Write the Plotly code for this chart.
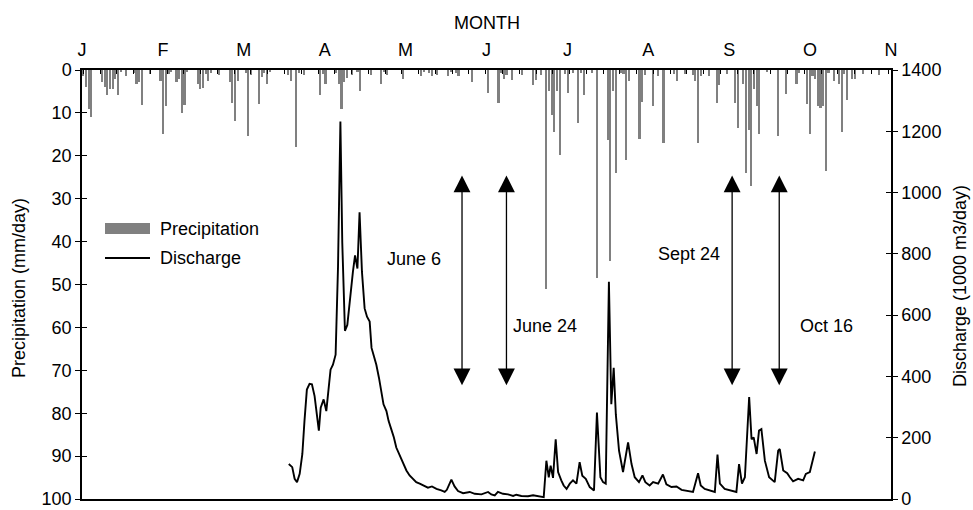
import plotly.graph_objects as go

# ---------------- data ----------------
MONTH_LABELS = ["J", "F", "M", "A", "M", "J", "J", "A", "S", "O", "N"]
DAYS_SPAN = 304  # Jan 1 .. Nov 1

# daily precipitation (day index from Jan 1, mm/day)
rain_day = [0, 1, 2, 3, 7, 8, 9, 10, 11, 12, 13, 14, 16, 19, 20, 21, 22, 25, 29, 30, 31, 32, 33, 35, 36, 37, 38, 39,
            43, 44, 45, 46, 47, 48, 51, 55, 56, 57, 58, 61, 62, 63, 66, 67, 68, 69, 70, 77, 78, 80, 81, 83, 89, 90,
            91, 95, 96, 97, 98, 99, 101, 103, 104, 108, 112, 113, 114, 120, 127, 128, 130, 131, 133, 137, 138, 140,
            141, 146, 152, 156, 157, 158, 159, 161, 165, 169, 170, 172, 174, 175, 176, 177, 178, 179, 181, 182, 184,
            186, 187, 188, 191, 193, 197, 198, 199, 200, 202, 203, 204, 205, 209, 210, 211, 214, 216, 218, 222, 223,
            226, 229, 230, 231, 232, 235, 238, 239, 242, 245, 246, 248, 249, 250, 251, 252, 253, 254, 257, 261, 264,
            268, 269, 272, 273, 274, 275, 276, 277, 278, 279, 280, 282, 284, 285, 286, 287, 289, 290, 293, 299]
rain_mm = [1.4, 3.9, 9, 11, 2.9, 3.9, 5.9, 4.5, 4.5, 2, 5.9, 0.5, 1.4, 0.6, 3.3, 2.9, 8.2, 1, 2.5, 14.9, 8.3, 1, 0.5,
           2.7, 2.2, 10.1, 8.2, 0.5, 3.3, 4.5, 4.2, 1, 2.5, 0.6, 1.2, 2.9, 7.8, 11.8, 2.5, 0.8, 15.4, 1.2, 8, 1.6,
           0.6, 3.3, 0.4, 1.2, 2.5, 18, 0.8, 1.2, 5.9, 1, 3.3, 0.8, 3.3, 9.1, 2.7, 1.8, 1.2, 0.4, 5, 1.2, 3.3, 0.4,
           1.2, 2, 1.4, 0.4, 0.8, 1.4, 1.2, 1.4, 0.4, 0.8, 1.4, 2.9, 5.4, 7.8, 0.8, 2, 1.2, 2.3, 1.2, 3.5, 2.3, 1.2,
           51, 4.9, 10.6, 14.5, 4.9, 19.9, 1, 5.4, 0.8, 12.3, 0.8, 5.9, 0.8, 48.4, 16.4, 44.6, 5, 23.9, 0.6, 1,
           20.9, 2.5, 16, 7.5, 1.2, 8.3, 1.4, 17, 1, 2.5, 1, 1.2, 2.5, 17, 1.4, 1.4, 7.6, 3.5, 1, 7.6, 13.6, 3.3,
           23.9, 14, 27, 4.5, 8.5, 14.9, 0.4, 15.4, 5.5, 3.3, 0.8, 7.9, 14.9, 1.4, 2, 8.5, 8.9, 8.3, 23.5, 0.8,
           2.5, 3.3, 14.5, 1, 7, 2, 2, 1, 1.2]

# discharge (day from Jan 1, 1000 m3/day)
q_day = [77.7, 79.0, 79.9, 80.8, 81.8, 82.8, 83.6, 84.5, 85.5, 86.4, 87.4, 88.3, 89.0, 89.7, 90.8, 91.8, 92.7, 93.4,
         94.3, 95.3, 96.2, 97.1, 97.8, 98.8, 99.7, 100.7, 101.8, 102.6, 103.5, 104.3, 105.2, 106.2, 107.1, 108.1,
         108.8, 109.7, 110.6, 111.6, 112.5, 113.3, 114.4, 115.2, 116.2, 117.2, 118.1, 119.4, 120.6, 121.9, 123.1,
         124.4, 125.6, 126.9, 128.8, 130.0, 131.5, 133.2, 135.0, 136.3, 137.1, 138.8, 140.0, 141.3, 143.2, 145.7,
         147.6, 150.1, 152.6, 153.8, 155.1, 156.3, 158.2, 160.1, 162.0, 163.2, 165.1, 167.6, 169.5, 171.4, 173.5,
         174.5, 175.4, 176.1, 177.0, 178.0, 178.9, 180.1, 181.0, 182.1, 183.3, 184.5, 185.8, 187.0, 188.0, 189.3,
         190.8, 192.4, 193.5, 194.8, 195.8, 196.8, 198.0, 198.9, 199.8, 200.6, 201.8, 203.3, 205.2, 206.5, 207.7,
         209.3, 210.6, 211.7, 213.3, 214.6, 216.5, 218.3, 219.6, 221.5, 223.4, 225.3, 227.1, 229.6, 231.5, 232.5,
         234.0, 235.9, 237.8, 238.8, 239.7, 241.5, 243.4, 245.9, 246.9, 248.0, 249.1, 250.7, 251.6, 252.4, 253.5,
         254.4, 255.3, 256.6, 258.2, 260.3, 261.6, 262.2, 263.5, 265.0, 266.0, 267.2, 269.1, 271.0, 272.0, 273.5,
         275.4]
q_flow = [114, 104, 66, 55, 82, 147, 255, 357, 376, 374, 336, 276, 223, 298, 325, 287, 352, 422, 438, 471, 757, 1232,
          838, 549, 568, 655, 741, 795, 752, 936, 741, 622, 595, 579, 493, 466, 438, 395, 352, 309, 287, 255, 228,
          201, 168, 142, 114, 93, 77, 66, 55, 50, 41, 37, 41, 33, 28, 23, 30, 63, 41, 26, 19, 23, 17, 15, 23, 15, 12,
          23, 17, 15, 10, 14, 10, 9, 12, 10, 6, 125, 71, 109, 69, 195, 88, 61, 44, 33, 50, 61, 50, 120, 76, 66, 39,
          28, 282, 71, 55, 50, 709, 309, 428, 276, 158, 88, 185, 114, 71, 55, 77, 55, 44, 55, 50, 80, 48, 39, 41, 30,
          28, 23, 84, 44, 33, 28, 23, 145, 50, 33, 28, 23, 114, 50, 71, 333, 195, 201, 147, 223, 228, 125, 71, 55,
          158, 163, 93, 84, 71, 58, 66, 61, 82, 88, 155]

# sampling events (vertical double arrows)
sample_day = [142.8, 159.5, 244.3, 262.0]
sample_label = ["June 6", "June 24", "Sept 24", "Oct 16"]
arrow_low, arrow_high = 366, 1056  # discharge units

# ---------------- figure ----------------
FONT = "Liberation Sans, Arial, Helvetica, sans-serif"
FS = 18
GRAY = "#808080"
W, H = 973, 510
ML, MR, MT, MB = 82, 82, 70, 11
PW, PH = W - ML - MR, H - MT - MB


def px_x(px):
    return (px - ML) / PW


def px_y(py):
    return (H - MB - py) / PH


fig = go.Figure()

fig.add_trace(go.Bar(
    x=[d + 0.5 for d in rain_day], y=rain_mm, base=0, width=0.8,
    marker=dict(color=GRAY, line=dict(width=0)),
    xaxis="x", yaxis="y", showlegend=False, name="Precipitation"))

fig.add_trace(go.Scatter(
    x=q_day, y=q_flow, mode="lines", line=dict(color="black", width=1.9),
    xaxis="x", yaxis="y2", showlegend=False, name="Discharge"))

month_pos = [i * DAYS_SPAN / 10 for i in range(11)]

axis_common = dict(showgrid=False, zeroline=False, linecolor="black", automargin=False)

fig.update_layout(
    template="none",
    width=W, height=H,
    margin=dict(l=ML, r=MR, t=MT, b=MB, autoexpand=False),
    paper_bgcolor="white", plot_bgcolor="white",
    font=dict(family=FONT, size=FS, color="black"),
    showlegend=False,
    bargap=0,
    xaxis=dict(range=[0, DAYS_SPAN], showline=True, linewidth=1.5, ticks="", showticklabels=False,
               anchor="y", **axis_common),
    xaxis2=dict(range=[0, DAYS_SPAN], overlaying="x", side="top", anchor="y", showline=True, linewidth=1.5,
                tickmode="array", tickvals=month_pos, ticktext=MONTH_LABELS, ticks="",
                ticklabelstandoff=5, tickfont=dict(size=FS), **axis_common),
    xaxis3=dict(range=[0, DAYS_SPAN], overlaying="x", side="top", anchor="y", showline=False,
                tickmode="linear", tick0=0.5, dtick=6.3, ticks="inside", ticklen=4, tickwidth=1.2,
                tickcolor="black", showticklabels=False, **axis_common),
    yaxis=dict(range=[100, 0], tickmode="linear", tick0=0, dtick=10, ticks="outside", ticklen=5, tickwidth=1.3,
               tickcolor="black", showline=True, linewidth=1.5, tickfont=dict(size=FS), anchor="x",
               ticklabeloverflow="allow", **axis_common),
    yaxis3=dict(range=[100, 0], overlaying="y", side="left", anchor="x", tickmode="linear", tick0=0, dtick=10,
                ticks="inside", ticklen=5, tickwidth=1.3, tickcolor="black", showticklabels=False,
                showline=False, **axis_common),
    yaxis2=dict(range=[0, 1400], overlaying="y", side="right", anchor="x", tickmode="linear", tick0=0,
                dtick=200, ticks="outside", ticklen=5, tickwidth=1.3, tickcolor="black", showline=True,
                linewidth=1.5, tickfont=dict(size=FS), ticklabeloverflow="allow", **axis_common),
    yaxis4=dict(range=[0, 1400], overlaying="y", side="right", anchor="x", tickmode="linear", tick0=0,
                dtick=200, ticks="inside", ticklen=5, tickwidth=1.3, tickcolor="black", showticklabels=False,
                showline=False, **axis_common),
)

# dummy traces so the overlay axes get drawn
fig.add_trace(go.Scatter(x=[None], y=[None], xaxis="x3", yaxis="y3", showlegend=False, hoverinfo="skip"))
fig.add_trace(go.Scatter(x=[None], y=[None], xaxis="x2", yaxis="y4", showlegend=False, hoverinfo="skip"))

annotations = []
# double-headed arrows at sampling dates
for d in sample_day:
    annotations.append(dict(
        x=d, y=arrow_high, ax=d, ay=arrow_low, xref="x", yref="y2", axref="x", ayref="y2",
        text="", showarrow=True, arrowside="end+start", arrowhead=2, startarrowhead=2,
        arrowsize=2.6, startarrowsize=2.6, arrowwidth=1.3, arrowcolor="black"))

label_offsets = [(-18.2, 782), (14.5, 564), (-16.3, 800), (17.9, 564)]
for d, lab, (dx, yv) in zip(sample_day, sample_label, label_offsets):
    annotations.append(dict(x=d + dx, y=yv, xref="x", yref="y2", text=lab, showarrow=False,
                            font=dict(size=FS), xanchor="center", yanchor="middle"))

# axis titles
annotations += [
    dict(text="MONTH", x=0.5, y=px_y(23), xref="paper", yref="paper", showarrow=False,
         xanchor="center", yanchor="middle", font=dict(size=FS)),
    dict(text="Precipitation (mm/day)", x=px_x(19), y=px_y(288), xref="paper", yref="paper",
         showarrow=False, textangle=-90, xanchor="center", yanchor="middle", font=dict(size=FS)),
    dict(text="Discharge (1000 m3/day)", x=px_x(960), y=px_y(286), xref="paper", yref="paper",
         showarrow=False, textangle=-90, xanchor="center", yanchor="middle", font=dict(size=FS)),
]

# legend (drawn manually to match the wide swatches)
shapes = [
    dict(type="rect", xref="paper", yref="paper", x0=px_x(105), x1=px_x(150), y0=px_y(234), y1=px_y(223),
         fillcolor=GRAY, line=dict(width=0)),
    dict(type="line", xref="paper", yref="paper", x0=px_x(105), x1=px_x(150), y0=px_y(258), y1=px_y(258),
         line=dict(color="black", width=1.9)),
]
annotations += [
    dict(text="Precipitation", x=px_x(158), y=px_y(228.5), xref="paper", yref="paper", showarrow=False,
         xanchor="left", yanchor="middle", font=dict(size=FS)),
    dict(text="Discharge", x=px_x(158), y=px_y(258), xref="paper", yref="paper", showarrow=False,
         xanchor="left", yanchor="middle", font=dict(size=FS)),
]

fig.update_layout(annotations=annotations, shapes=shapes)
fig.write_html("out.html", config={"displayModeBar": False},
               post_script="document.body.style.margin='0';document.body.style.overflow='hidden';")
